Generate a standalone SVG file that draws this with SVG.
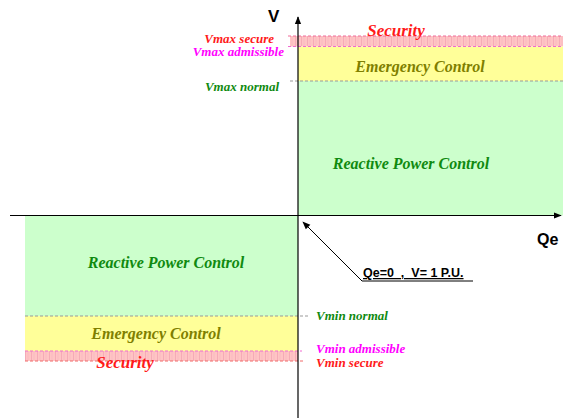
<svg xmlns="http://www.w3.org/2000/svg" width="563" height="418" viewBox="0 0 563 418">
<defs>
<pattern id="hatch" patternUnits="userSpaceOnUse" width="6" height="10">
<rect width="6" height="10" fill="#ffc4c4"/>
<line x1="1.5" y1="0" x2="1.5" y2="10" stroke="#f0a0b0" stroke-width="0.7"/>
<line x1="4" y1="0" x2="4" y2="10" stroke="#f4b0bc" stroke-width="0.5"/>
</pattern>
<marker id="arr" viewBox="0 0 10 10" refX="9" refY="5" markerWidth="8" markerHeight="8" orient="auto-start-reverse" markerUnits="userSpaceOnUse">
<path d="M0,1 L10,5 L0,9 Z" fill="#000"/>
</marker>
<style>
.lbl{font-family:"Liberation Serif","Times New Roman",serif;font-weight:700;font-style:italic;font-size:13px}
.big{font-family:"Liberation Serif","Times New Roman",serif;font-weight:700;font-style:italic;font-size:16px}
.ax{font-family:"Liberation Sans",Arial,sans-serif;font-weight:700}
.red{fill:#ff1a1a}.mag{fill:#ff00ff}.grn{fill:#108a10}.olv{fill:#7f7f00}
.dash{stroke-dasharray:3,2;stroke-width:1;fill:none}
</style>
</defs>
<g id="upper-regions">
<rect x="290" y="36" width="273" height="10.5" fill="url(#hatch)"/>
<rect x="298" y="46.5" width="265" height="34.5" fill="#ffff99"/>
<rect x="298" y="81" width="265" height="134.5" fill="#ccffcc"/>
<line class="dash" x1="288" y1="36" x2="563" y2="36" stroke="#f06a9a"/>
<line class="dash" x1="288" y1="46.5" x2="563" y2="46.5" stroke="#f06ad0"/>
<line class="dash" x1="290" y1="81" x2="563" y2="81" stroke="#999"/>
</g>
<g id="lower-regions">
<rect x="25" y="216" width="273" height="100" fill="#ccffcc"/>
<rect x="25" y="316" width="273" height="35" fill="#ffff99"/>
<rect x="25" y="351" width="273" height="10" fill="url(#hatch)"/>
<line class="dash" x1="25" y1="316" x2="309" y2="316" stroke="#999"/>
<line class="dash" x1="25" y1="351" x2="302" y2="351" stroke="#f06ad0"/>
<line class="dash" x1="25" y1="361" x2="303" y2="361" stroke="#f06a6a"/>
</g>
<g id="connectors">
<line x1="298" y1="418" x2="298" y2="17" stroke="#000" stroke-width="1.2" marker-end="url(#arr)"/>
<line x1="10" y1="215.5" x2="561" y2="215.5" stroke="#000" stroke-width="1.2" marker-end="url(#arr)"/>
<polyline points="473,281 362,281 303,222" fill="none" stroke="#000" stroke-width="1" marker-end="url(#arr)"/>
</g>
<g id="axis-labels">
<text class="ax" x="268" y="22" font-size="17">V</text>
<text class="ax" x="537" y="245" font-size="16">Qe</text>
<text class="ax" x="363" y="277" font-size="12.5" text-decoration="underline" xml:space="preserve" style="white-space:pre">Qe=0  ,  V= 1 P.U.</text>
</g>
<g id="top-texts">
<text class="big red" x="396" y="36" text-anchor="middle" style="font-size:17px">Security</text>
<text class="big olv" x="420" y="72" text-anchor="middle">Emergency Control</text>
<text class="big grn" x="411" y="169" text-anchor="middle">Reactive Power Control</text>
<text class="lbl red" x="274" y="42.5" text-anchor="end">Vmax secure</text>
<text class="lbl mag" x="284" y="56" text-anchor="end">Vmax admissible</text>
<text class="lbl grn" x="279" y="91" text-anchor="end">Vmax normal</text>
</g>
<g id="bottom-texts">
<text class="big grn" x="166" y="268" text-anchor="middle">Reactive Power Control</text>
<text class="big olv" x="156" y="339" text-anchor="middle">Emergency Control</text>
<text class="big red" x="125" y="368" text-anchor="middle" style="font-size:17px">Security</text>
<text class="lbl grn" x="316" y="320">Vmin normal</text>
<text class="lbl mag" x="316" y="353">Vmin admissible</text>
<text class="lbl red" x="316" y="367">Vmin secure</text>
</g>
</svg>
